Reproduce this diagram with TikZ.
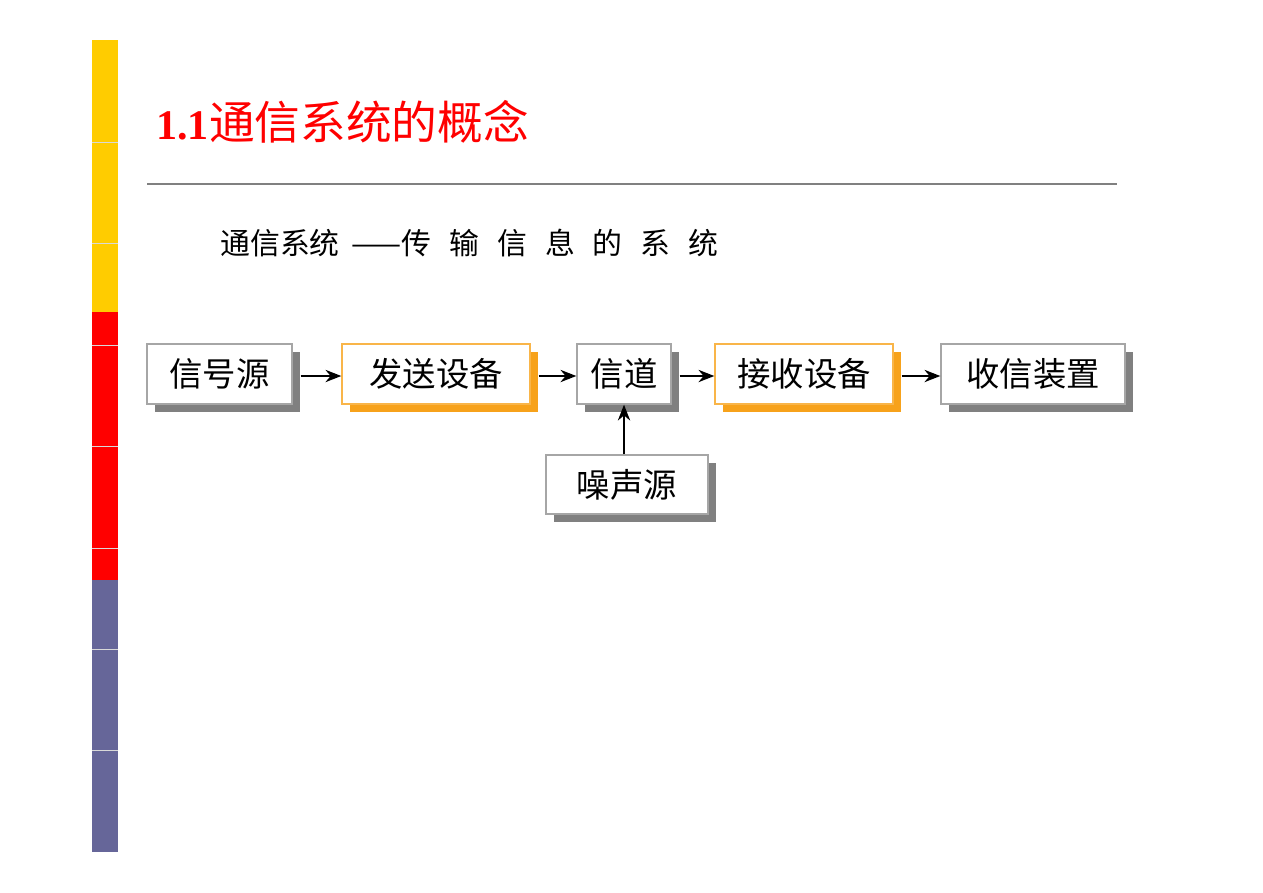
\documentclass[tikz,border=0pt]{standalone}
\usepackage{fontspec}
\usetikzlibrary{arrows.meta}
\setmainfont{Liberation Serif}
\newfontfamily\cjk{Noto Sans CJK SC}
\begin{document}
\begin{tikzpicture}[x=0.02cm,y=-0.02cm,
  blk/.style={draw=gray!70,line width=0.8pt,fill=white,inner sep=0pt,font=\cjk\fontsize{19}{19}\selectfont},
  arr/.style={-{Stealth[length=9pt,width=7pt]},line width=1.1pt}]
\useasboundingbox (0,0) rectangle (1263,892);
\fill[white] (0,0) rectangle (1263,892);
\definecolor{gold}{HTML}{FFCC00}
\definecolor{purp}{HTML}{666699}
\definecolor{org}{HTML}{F7A21B}
\fill[gold] (92,40) rectangle (118,312);
\fill[red] (92,312) rectangle (118,580);
\fill[purp] (92,580) rectangle (118,852);
\foreach \y in {142,243,345,446,548,649,750} \draw[white!70!gray,line width=0.4pt] (92,\y) -- (118,\y);
\node[anchor=west,text=red,inner sep=0pt] (title) at (156,122) {\fontsize{24}{24}\selectfont\textbf{1.1}\cjk\fontsize{26}{26}\selectfont 通信系统的概念};
\draw[gray,line width=1pt] (147,184) -- (1117,184);
\node[anchor=west,inner sep=0pt] (sub) at (220,243) {\cjk\fontsize{17}{17}\selectfont 通信系统\hspace{0.4em}——传\hspace{0.6em}输\hspace{0.6em}信\hspace{0.6em}息\hspace{0.6em}的\hspace{0.6em}系\hspace{0.6em}统};
% shadows
\fill[gray] (155,352) rectangle (300,412);
\fill[org] (350,352) rectangle (538,412);
\fill[gray] (585,352) rectangle (679,412);
\fill[org] (723,352) rectangle (901,412);
\fill[gray] (949,352) rectangle (1133,412);
\fill[gray] (554,463) rectangle (716,522);
\node[blk,minimum width=145*0.02cm,minimum height=60*0.02cm] (a) at (219.5,374) {信号源};
\node[blk,draw=org!80,minimum width=188*0.02cm,minimum height=60*0.02cm] (b) at (436,374) {发送设备};
\node[blk,minimum width=94*0.02cm,minimum height=60*0.02cm] (c) at (624,374) {信道};
\node[blk,draw=org!80,minimum width=178*0.02cm,minimum height=60*0.02cm] (d) at (804,374) {接收设备};
\node[blk,minimum width=184*0.02cm,minimum height=60*0.02cm] (e) at (1033,374) {收信装置};
\node[blk,minimum width=162*0.02cm,minimum height=59*0.02cm] (n) at (627,484.5) {噪声源};
\draw[arr] (a.east) ++(8,2) coordinate (a1) -- (a1 -| b.west);
\draw[arr] (b.east) ++(8,2) coordinate (b1) -- (b1 -| c.west);
\draw[arr] (c.east) ++(8,2) coordinate (c1) -- (c1 -| d.west);
\draw[arr] (d.east) ++(8,2) coordinate (d1) -- (d1 -| e.west);
\draw[arr] (n.north -| c.south) -- (c.south);
\end{tikzpicture}
\end{document}
